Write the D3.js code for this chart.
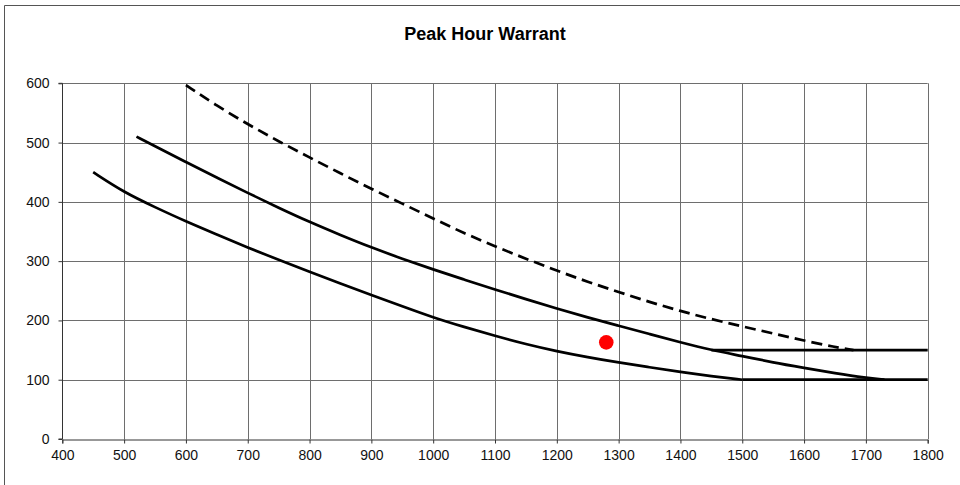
<!DOCTYPE html>
<html><head><meta charset="utf-8">
<script src="https://cdn.jsdelivr.net/npm/d3@7"></script>
<style>
html,body{margin:0;padding:0;background:#fff;}
svg{display:block;font-family:"Liberation Sans",Arial,sans-serif;}
</style></head>
<body>
<svg id="chart" width="960" height="485"></svg>
<script>
const title = "Peak Hour Warrant";
const xTicks = [400,500,600,700,800,900,1000,1100,1200,1300,1400,1500,1600,1700,1800];
const yTicks = [0,100,200,300,400,500,600];

// Top (dashed) curve
const dashedX = [600,650,700,750,800,850,900,950,1000,1050,1100,1150,1200,1250,1300,1350,1400,1450,1500,1550,1600,1650,1680];
const dashedY = [597,562,531,502,475,448,422,397,372,347,325,304,284,265,248,231,216,202,190,178,166,155,150];

// Middle solid curve
const midX = [520,550,600,650,700,750,800,850,900,950,1000,1050,1100,1150,1200,1250,1300,1350,1400,1450,1500,1550,1600,1650,1700,1730];
const midY = [510,494,467,441,415,390,366,344,323,304,286,269,252,236,220,205,191,177,163,150,140,129,120,111,103,100];

// Bottom solid curve
const lowX = [450,500,550,600,650,700,750,800,850,900,950,1000,1050,1100,1150,1200,1250,1300,1350,1400,1450,1500];
const lowY = [450,416,391,367,345,323,302,282,262,243,224,205,189,174,160,148,138,129,121,113,106,100];

// Horizontal minimum lines
const min150X = [1450,1800];
const min150Y = [150,150];
const min100X = [1500,1800];
const min100Y = [100,100];

// Observed point
const pointX = [1280];
const pointY = [163];

const svg = d3.select("#chart");
const m = {left:62.3, right:927.7, top:83.3, bottom:439};
const x = d3.scaleLinear().domain([400,1800]).range([m.left,m.right]);
const y = d3.scaleLinear().domain([0,600]).range([m.bottom,m.top]);

// outer border
svg.append("path").attr("d","M4.5,485 L4.5,5.5 L960,5.5")
  .attr("fill","none").attr("stroke","#555").attr("stroke-width",1);

// title
svg.append("text").attr("x",485).attr("y",40).attr("text-anchor","middle")
  .attr("font-size",18).attr("font-weight","bold").attr("fill","#000").text(title);

// grid
const g = svg.append("g");
g.selectAll("line.vg").data(xTicks.slice(1)).enter().append("line")
  .attr("x1",d=>Math.round(x(d))+0.5).attr("x2",d=>Math.round(x(d))+0.5)
  .attr("y1",y(600)).attr("y2",y(0)).attr("stroke","#6e6e6e").attr("stroke-width",1);
g.selectAll("line.hg").data(yTicks.slice(1)).enter().append("line")
  .attr("y1",d=>Math.round(y(d))+0.5).attr("y2",d=>Math.round(y(d))+0.5)
  .attr("x1",x(400)).attr("x2",x(1800)).attr("stroke","#6e6e6e").attr("stroke-width",1);

// axes
const xAxis = d3.axisBottom(x).tickValues(xTicks).tickSize(4).tickPadding(7).tickFormat(d3.format("d"));
const yAxis = d3.axisLeft(y).tickValues(yTicks).tickSize(4).tickPadding(9).tickFormat(d3.format("d"));
const gx = svg.append("g").attr("transform",`translate(0,${Math.round(y(0))+0.5})`).call(xAxis);
const gy = svg.append("g").attr("transform",`translate(${Math.round(x(400))+0.5},0)`).call(yAxis);
[gx,gy].forEach(a=>{
  a.attr("font-size",14).attr("font-family","'Liberation Sans',Arial,sans-serif");
  a.select(".domain").attr("stroke","#333");
  a.selectAll(".tick line").attr("stroke","#333");
  a.selectAll(".tick text").attr("fill","#111");
});
gy.select(".domain").attr("d",`M-4,${y(600)}H0V${y(0)}H-4`);

// curves
const line = d3.line().x(d=>x(d[0])).y(d=>y(d[1])).curve(d3.curveBasis);
function draw(xs, ys, dash){
  const p = svg.append("path").datum(xs.map((v,i)=>[v,ys[i]]))
    .attr("d",line).attr("fill","none").attr("stroke","#000")
    .attr("stroke-width",2.7).attr("stroke-linejoin","round");
  if(dash) p.attr("stroke-dasharray",dash);
}
draw(min100X,min100Y);
draw(min150X,min150Y);
draw(lowX,lowY);
draw(midX,midY);
draw(dashedX,dashedY,"11,6");

svg.selectAll("circle.pt").data(pointX.map((v,i)=>[v,pointY[i]])).enter().append("circle")
  .attr("cx",d=>x(d[0])).attr("cy",d=>y(d[1])).attr("r",7.3).attr("fill","#ff0000");
</script>
</body></html>
